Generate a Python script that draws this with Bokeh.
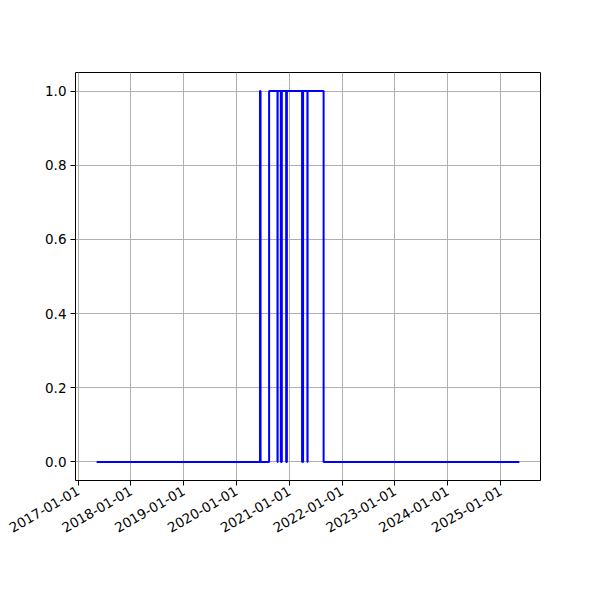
import pandas as pd
from math import pi
from bokeh.plotting import figure
from bokeh.models import FixedTicker, DatetimeTickFormatter, PrintfTickFormatter, Range1d
from bokeh.embed import file_html
from bokeh.resources import INLINE

# change points of the 0/1 series (step "after")
change_dates = ["2017-05-09", "2020-06-12", "2020-06-16", "2020-08-14",
                "2020-10-11", "2020-10-12",
                "2020-11-03", "2020-11-04", "2020-11-09", "2020-11-10",
                "2020-12-10", "2020-12-11", "2020-12-14", "2020-12-15",
                "2021-03-30", "2021-03-31", "2021-04-05", "2021-04-06",
                "2021-05-06", "2021-05-07", "2021-08-26", "2025-05-11"]
change_values = [0, 1, 0, 1,
                 0, 1,
                 0, 1, 0, 1,
                 0, 1, 0, 1,
                 0, 1, 0, 1,
                 0, 1, 0, 0]
tick_dates = ["2017-01-01", "2018-01-01", "2019-01-01", "2020-01-01", "2021-01-01",
              "2022-01-01", "2023-01-01", "2024-01-01", "2025-01-01"]
y_ticks = [0.0, 0.2, 0.4, 0.6, 0.8, 1.0]

x = pd.to_datetime(change_dates)
span = x[-1] - x[0]
x_start = x[0] - span * 0.05
x_end = x[-1] + span * 0.05

p = figure(x_axis_type="datetime", output_backend="svg", toolbar_location=None,
           frame_width=465, frame_height=408,
           min_border_left=75, min_border_right=52, min_border_top=72, min_border_bottom=112,
           x_range=Range1d(x_start, x_end), y_range=Range1d(-0.05, 1.05),
           background_fill_color="white", border_fill_color="white")

p.step(x, change_values, mode="after", line_color="#0000ff", line_width=2)

tick_ms = [pd.Timestamp(d).value / 1e6 for d in tick_dates]
p.xaxis.ticker = FixedTicker(ticks=tick_ms)
fmt = "%Y-%m-%d"
p.xaxis.formatter = DatetimeTickFormatter(years=fmt, months=fmt, days=fmt, hours=fmt,
                                          minutes=fmt, seconds=fmt, milliseconds=fmt,
                                          microseconds=fmt, hourmin=fmt, minsec=fmt)
p.xaxis.major_label_orientation = pi / 6
p.yaxis.ticker = FixedTicker(ticks=y_ticks)
p.yaxis.formatter = PrintfTickFormatter(format="%.1f")

for ax in (p.xaxis, p.yaxis):
    ax.axis_line_color = None
    ax.major_tick_line_color = "black"
    ax.major_tick_line_width = 1
    ax.major_tick_out = 5
    ax.major_tick_in = 0
    ax.minor_tick_line_color = None
    ax.major_label_text_font = "DejaVu Sans"
    ax.major_label_text_font_size = "13.5px"
    ax.major_label_text_color = "black"
    ax.major_label_standoff = 4

p.outline_line_color = "black"
p.outline_line_width = 1
p.grid.grid_line_color = "#b0b0b0"
p.grid.grid_line_width = 1

open("out.html", "w").write(file_html(p, INLINE))
